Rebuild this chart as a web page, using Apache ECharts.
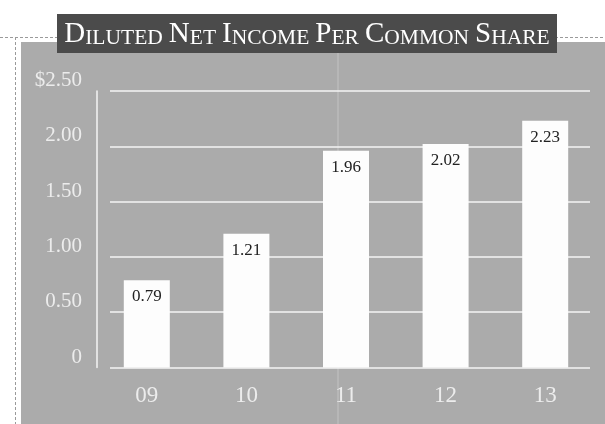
<!DOCTYPE html>
<html>
<head>
<meta charset="utf-8">
<script src="https://cdn.jsdelivr.net/npm/echarts@6/dist/echarts.min.js"></script>
<style>
html,body{margin:0;padding:0;background:#fff;}
#c{width:605px;height:424px;}
</style>
</head>
<body>
<div id="c"></div>
<script>
var categories = ['09', '10', '11', '12', '13'];
var values = [0.79, 1.21, 1.96, 2.02, 2.23];
var yTicks = [0, 0.5, 1.0, 1.5, 2.0, 2.5];
var titleText = 'Diluted Net Income Per Common Share';

var serif = '"Liberation Serif", "DejaVu Serif", serif';

function smallCaps(str) {
  var out = '';
  str.split(' ').forEach(function (w, i) {
    if (i > 0) out += '{sp| }';
    out += '{big|' + w.charAt(0).toUpperCase() + '}';
    if (w.length > 1) out += '{sm|' + w.slice(1).toUpperCase() + '}';
  });
  return out;
}

var chart = echarts.init(document.getElementById('c'), null, {renderer: 'canvas'});
var option = {
  animation: false,
  backgroundColor: '#ffffff',
  graphic: [
    {type: 'line', shape: {x1: 15.5, y1: 37, x2: 15.5, y2: 424}, style: {stroke: '#9a9a9a', lineWidth: 1, lineDash: [3, 2]}, z: -20},
    {type: 'line', shape: {x1: 0, y1: 37.5, x2: 605, y2: 37.5}, style: {stroke: '#9a9a9a', lineWidth: 1, lineDash: [3, 2]}, z: -20},
    {type: 'rect', shape: {x: 21, y: 42, width: 584, height: 382}, style: {fill: '#ababab'}, z: -10},
    {type: 'line', shape: {x1: 338, y1: 53, x2: 338, y2: 424}, style: {stroke: 'rgba(235,235,235,0.4)', lineWidth: 1}, z: -5},
    {type: 'rect', shape: {x: 57, y: 14, width: 500, height: 39}, style: {fill: '#4b4b4b'}, z: 5},
    {type: 'text', x: 307, y: 34, z: 6,
      style: {
        text: smallCaps(titleText),
        align: 'center', verticalAlign: 'middle',
        fill: '#ffffff', fontFamily: serif,
        rich: {
          big: {fontSize: 29, fontFamily: serif, fill: '#ffffff', verticalAlign: 'bottom', lineHeight: 30},
          sm: {fontSize: 21.5, fontFamily: serif, fill: '#ffffff', verticalAlign: 'bottom', lineHeight: 30},
          sp: {fontSize: 24, fontFamily: serif, fill: '#ffffff', verticalAlign: 'bottom', lineHeight: 30}
        }
      }
    }
  ],
  grid: [
    {left: 110, right: 15, top: 91, bottom: 56.5},
    {left: 97, right: 10, top: 91, bottom: 56.5}
  ],
  xAxis: [
    {gridIndex: 0, type: 'category', data: categories, show: false},
    {gridIndex: 1, type: 'category', data: categories,
      axisLine: {show: false}, axisTick: {show: false},
      axisLabel: {color: '#ececec', fontFamily: serif, fontSize: 23, margin: 17}
    }
  ],
  yAxis: [
    {gridIndex: 0, type: 'value', min: 0, max: 2.5, interval: 0.5,
      axisLine: {show: false}, axisTick: {show: false}, axisLabel: {show: false},
      splitLine: {show: true, lineStyle: {color: '#f4f4f4', width: 1.5}}
    },
    {gridIndex: 1, type: 'value', min: 0, max: 2.5, interval: 0.5,
      axisLine: {show: true, lineStyle: {color: '#f4f4f4', width: 1.5}},
      axisTick: {show: false}, splitLine: {show: false},
      axisLabel: {
        color: '#ececec', fontFamily: serif, fontSize: 21, margin: 15,
        verticalAlign: 'bottom',
        formatter: function (v) {
          if (v === 0) return '0';
          var s = v.toFixed(2);
          return v === yTicks[yTicks.length - 1] ? '$' + s : s;
        }
      }
    }
  ],
  series: [
    {
      type: 'bar', xAxisIndex: 1, yAxisIndex: 1,
      data: values, barWidth: 46,
      itemStyle: {color: '#fdfdfd'},
      label: {
        show: true, position: 'insideTop', distance: 8,
        color: '#222222', fontFamily: serif, fontSize: 17,
        formatter: function (p) { return p.value.toFixed(2); }
      },
      z: 3
    }
  ]
};
chart.setOption(option);
</script>
</body>
</html>
